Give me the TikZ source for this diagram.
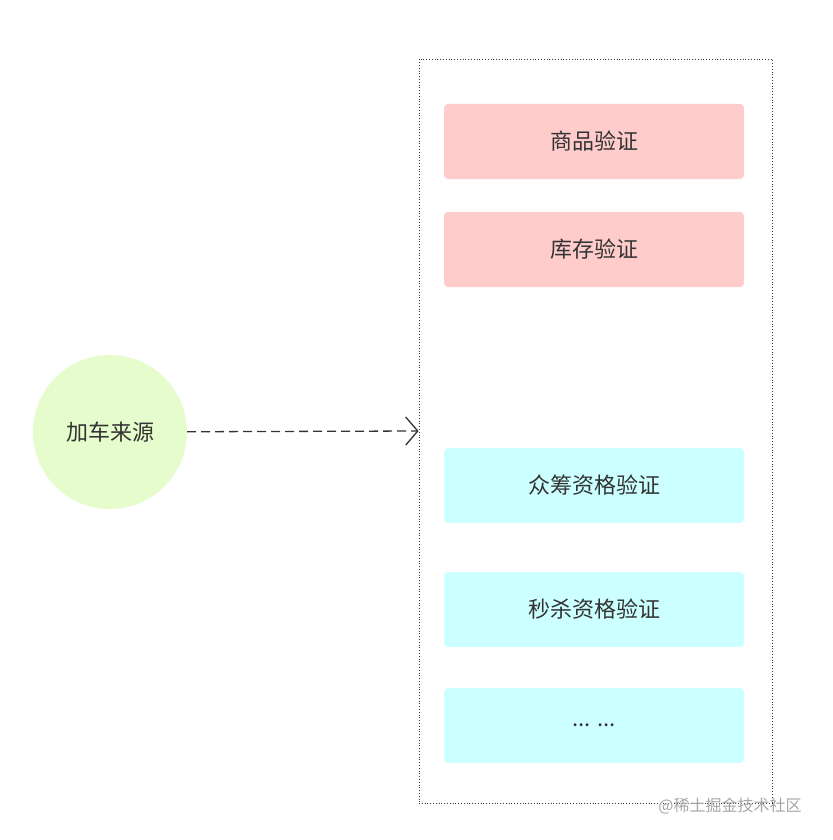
\documentclass[tikz,border=0pt]{standalone}
\usepackage{fontspec}
\newfontfamily\cjk{Noto Sans CJK SC}
\usetikzlibrary{arrows.meta}
\definecolor{pinkf}{HTML}{FFCCCC}
\definecolor{cyanf}{HTML}{CCFFFF}
\definecolor{greenf}{HTML}{E6FCCC}
\definecolor{txt}{HTML}{333333}
\begin{document}
\begin{tikzpicture}[x=1pt,y=-1pt,
  box/.style={draw=none,rounded corners=4pt,minimum width=300pt,minimum height=75pt,inner sep=0pt,font=\cjk\fontsize{22}{26}\selectfont,text=txt},
  every node/.style={font=\cjk\fontsize{22}{26}\selectfont,text=txt}]
\useasboundingbox (0,0) rectangle (832,840);
\fill[white] (0,0) rectangle (832,840);
\node[circle,fill=greenf,minimum size=154pt,inner sep=0pt] (src) at (110,432) {加车来源};
\node[draw=black!80,dotted,line width=0.8pt,minimum width=353pt,minimum height=744pt,inner sep=0pt] (grp) at (595.5,431) {};
\node[box,fill=pinkf] (b1) at (594,141.5) {商品验证};
\node[box,fill=pinkf] (b2) at (594,249.5) {库存验证};
\node[box,fill=cyanf] (b3) at (594,485.5) {众筹资格验证};
\node[box,fill=cyanf] (b4) at (594,609.5) {秒杀资格验证};
\node[box,fill=cyanf] (b5) at (594,725.5) {... ...};
\draw[dashed,dash pattern=on 9pt off 5pt,line width=1.3pt,draw=txt,-{Straight Barb[length=12pt,width=28pt,line width=1.3pt]}] (src) -- (grp.west);
\node[font=\cjk\fontsize{16}{18}\selectfont,text=black!35] (wm) at (730,806) {@稀土掘金技术社区};
\end{tikzpicture}
\end{document}
